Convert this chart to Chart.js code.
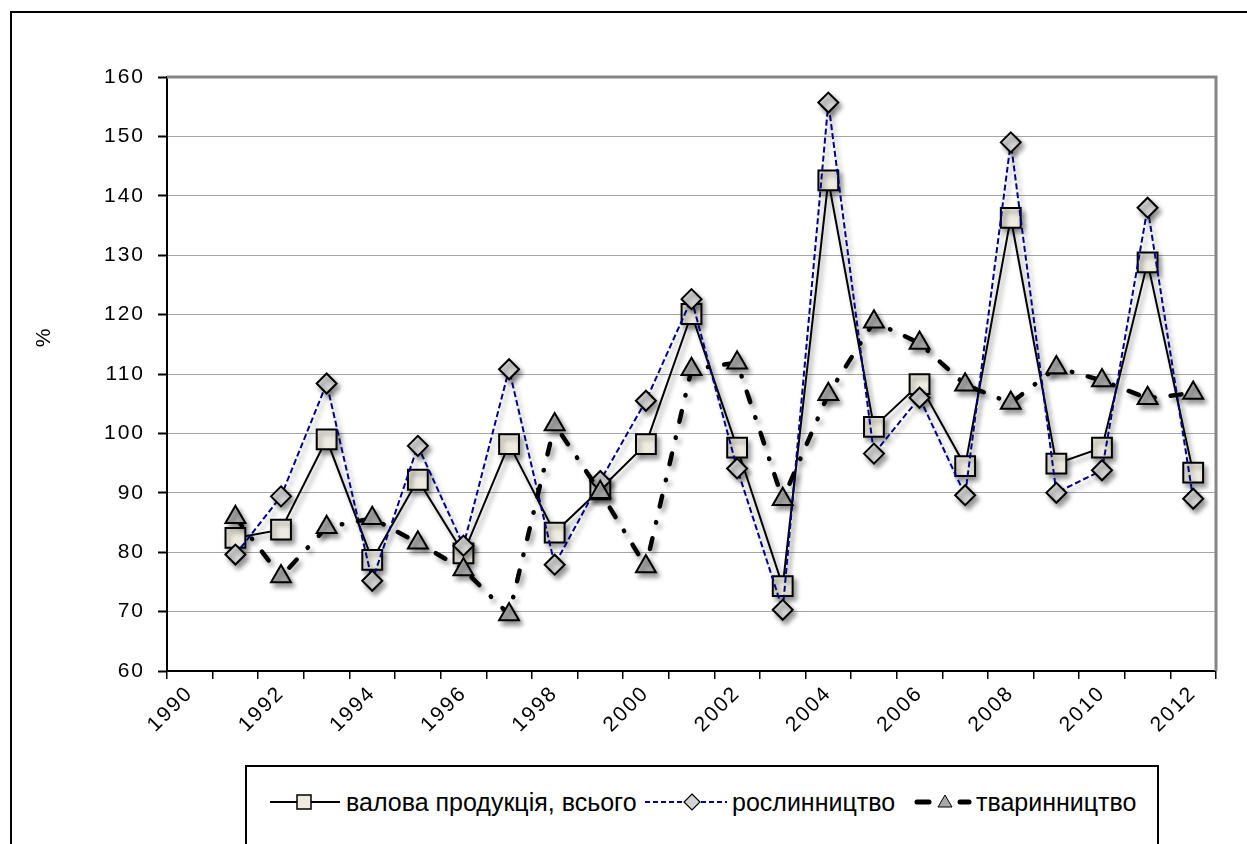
<!DOCTYPE html>
<html>
<head>
<meta charset="utf-8">
<script src="https://cdn.jsdelivr.net/npm/chart.js@4/dist/chart.umd.min.js"></script>
<style>
  html, body { margin: 0; padding: 0; background: #fff; }
  #wrap { position: relative; width: 1247px; height: 844px; overflow: hidden; background: #fff; }
  #frame { position: absolute; left: 10px; top: 11px; width: 1400px; height: 1000px;
           border-left: 2px solid #000; border-top: 2px solid #000; }
  #c { position: absolute; left: 0; top: 0; }
  #legend { position: absolute; left: 245px; top: 765px; width: 910px; height: 120px;
            border: 2px solid #000; background: #fff; }
  #legend svg { position: absolute; left: 0; top: 0; }
  .lt { position: absolute; top: 20px; height: 30px; line-height: 30px; white-space: nowrap;
        font-family: "Liberation Sans", Arial, sans-serif; font-size: 25px; color: #000; }
</style>
</head>
<body>
<div id="wrap">
  <div id="frame"></div>
  <canvas id="c" width="1247" height="844"></canvas>
  <div id="legend">
    <svg width="910" height="80">
      <line x1="23" y1="35" x2="93" y2="35" stroke="#000" stroke-width="2"/>
      <rect x="50" y="28" width="14" height="14" fill="#EEECE1" stroke="#000" stroke-width="1.5"/>
      <line x1="398" y1="35" x2="480" y2="35" stroke="#000080" stroke-width="2" stroke-dasharray="5,3"/>
      <polygon points="445,27 453,35 445,43 437,35" fill="#D4D4D4" stroke="#000" stroke-width="1.2"/>
      <line x1="670" y1="35" x2="682" y2="35" stroke="#000" stroke-width="5" stroke-linecap="round"/>
      <polygon points="698,28 705,40 691,40" fill="#A8A8A8" stroke="#000" stroke-width="1"/>
      <line x1="713" y1="35" x2="722" y2="35" stroke="#000" stroke-width="5" stroke-linecap="round"/>
    </svg>
    <span class="lt" id="t1" style="left:99px">валова продукція, всього</span>
    <span class="lt" id="t2" style="left:485px">рослинництво</span>
    <span class="lt" id="t3" style="left:729px">тваринництво</span>
  </div>
</div>
<script>
// ---- data ----
const years = ['1990','1991','1992','1993','1994','1995','1996','1997','1998','1999','2000',
               '2001','2002','2003','2004','2005','2006','2007','2008','2009','2010','2011','2012'];
const grossOutput = [null, 82.4, 83.8, 99.0, 78.7, 92.2, 79.8, 98.2, 83.3, 90.6, 98.2,
                     120.1, 97.6, 74.3, 142.6, 101.1, 108.3, 94.5, 136.3, 94.9, 97.6, 128.8, 93.4];
const cropOutput  = [null, 79.6, 89.4, 108.4, 75.2, 97.9, 81.1, 110.8, 77.9, 92.0, 105.5,
                     122.6, 94.1, 70.3, 155.7, 96.6, 106.0, 89.6, 149.0, 90.0, 93.8, 138.0, 89.0];
const livestockOutput = [null, 85.9, 75.9, 84.2, 85.7, 81.6, 77.1, 69.5, 101.5, 90.1, 77.6,
                     110.8, 111.9, 88.9, 106.6, 118.8, 115.2, 108.2, 105.1, 111.1, 108.9, 105.9, 106.8];
const seriesNames = ['валова продукція, всього', 'рослинництво', 'тваринництво'];
const yAxisTitle = '%';

const FONT = '"Liberation Sans", Arial, sans-serif';

const shadowPlugin = {
  id: 'shadow',
  beforeDatasetDraw(chart) {
    const c = chart.ctx; c.save();
    c.shadowColor = 'rgba(0,0,0,0.4)'; c.shadowBlur = 5; c.shadowOffsetX = 3; c.shadowOffsetY = 4;
  },
  afterDatasetDraw(chart) { chart.ctx.restore(); }
};
const spacingPlugin = {
  id: 'spacing',
  beforeLayout(chart) { chart.ctx.letterSpacing = '2px'; },
  beforeDraw(chart) { chart.ctx.letterSpacing = '2px'; }
};
const framePlugin = {
  id: 'frame',
  beforeDatasetsDraw(chart) {
    const {ctx, chartArea: a} = chart;
    ctx.save();
    ctx.strokeStyle = '#868686'; ctx.lineWidth = 3;
    ctx.beginPath();
    ctx.moveTo(a.left, a.top); ctx.lineTo(a.right, a.top); ctx.lineTo(a.right, a.bottom);
    ctx.stroke();
    ctx.restore();
  },
  afterDraw(chart) {
    const ctx = chart.ctx;
    ctx.save();
    ctx.letterSpacing = '0px';
    ctx.font = '21px ' + FONT;
    ctx.fillStyle = '#000';
    ctx.translate(44, 338);
    ctx.rotate(-Math.PI / 2);
    ctx.textAlign = 'center'; ctx.textBaseline = 'middle';
    ctx.fillText(yAxisTitle, 0, 0);
    ctx.restore();
  }
};

new Chart(document.getElementById('c'), {
  type: 'line',
  data: {
    labels: years,
    datasets: [
      { label: seriesNames[0], data: grossOutput, order: 3,
        borderColor: '#000', borderWidth: 2, pointStyle: 'rect', pointRadius: 14,
        pointBackgroundColor: '#EEECE1', pointBorderColor: '#000', pointBorderWidth: 2, tension: 0 },
      { label: seriesNames[1], data: cropOutput, order: 2,
        borderColor: '#000080', borderWidth: 2, borderDash: [6, 3], pointStyle: 'rectRot', pointRadius: 10,
        pointBackgroundColor: '#D4D4D4', pointBorderColor: '#000', pointBorderWidth: 2, tension: 0 },
      { label: seriesNames[2], data: livestockOutput, order: 1,
        borderColor: '#000', borderWidth: 4.5, borderDash: [11, 16, 0.5, 16], borderCapStyle: 'round',
        pointStyle: 'triangle', pointRadius: 11.5,
        pointBackgroundColor: '#A8A8A8', pointBorderColor: '#000', pointBorderWidth: 2, tension: 0 }
    ]
  },
  options: {
    responsive: false, animation: false, devicePixelRatio: 1,
    layout: { padding: { left: 0, top: 77, right: 31, bottom: 0 } },
    plugins: { legend: { display: false }, tooltip: { enabled: false } },
    scales: {
      x: {
        type: 'category', offset: true,
        grid: { offset: true, drawOnChartArea: false, drawTicks: true, tickLength: 8, color: '#000', lineWidth: 1.5 },
        border: { color: '#000', width: 2 },
        ticks: { autoSkip: false, minRotation: 45, maxRotation: 45, padding: 2, color: '#000',
                 font: { family: FONT, size: 21 },
                 callback: function (v, i) { return i % 2 === 0 ? this.getLabelForValue(v) : ''; } },
        afterFit: s => { s.height = 173; }
      },
      y: {
        min: 60, max: 160,
        grid: { color: c => c.tick && c.tick.value === 160 ? 'rgba(0,0,0,0)' : '#A6A6A6', lineWidth: 1,
                tickLength: 9, tickColor: '#000', tickWidth: 2 },
        border: { color: '#000', width: 2 },
        ticks: { stepSize: 10, padding: 13, color: '#000', font: { family: FONT, size: 21 } },
        afterFit: s => { s.width = 167; }
      }
    }
  },
  plugins: [spacingPlugin, framePlugin, shadowPlugin]
});
</script>
</body>
</html>
